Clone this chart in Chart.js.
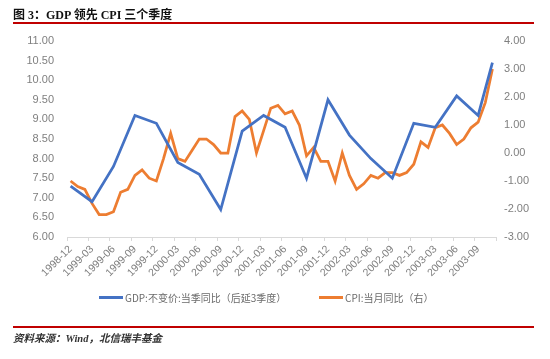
<!DOCTYPE html>
<html>
<head>
<meta charset="utf-8">
<script src="https://cdn.jsdelivr.net/npm/chart.js@4.4.1/dist/chart.umd.min.js"></script>
<style>
  html, body { margin: 0; padding: 0; background: #fff; }
  #wrap { position: relative; width: 550px; height: 359px; overflow: hidden; }
  #c { position: absolute; left: 0; top: 0; }
  .title { position: absolute; left: 13px; top: 5px; font: bold 12px "Liberation Serif", "Noto Sans CJK SC", serif; color: #111; white-space: nowrap; }
  .redline { position: absolute; left: 13px; width: 521px; height: 2px; background: #c00000; }
  .legend { position: absolute; top: 290px; font: 10px "Noto Sans CJK SC", sans-serif; color: #6b6b6b; white-space: nowrap; display: flex; align-items: center; }
  .legend .sw { display: inline-block; width: 24px; height: 3px; margin-right: 2px; }
  .source { position: absolute; left: 13px; top: 330px; font: italic bold 10.5px "Liberation Serif", "Noto Sans CJK SC", serif; color: #333; white-space: nowrap; }
</style>
</head>
<body>
<div id="wrap">
  <canvas id="c" width="550" height="359"></canvas>
  <div class="title">图 3：GDP 领先 CPI 三个季度</div>
  <div class="redline" style="top:22px"></div>
  <div class="legend" style="left:99px"><span class="sw" style="background:#4472C4"></span>GDP:不变价:当季同比（后延3季度）</div>
  <div class="legend" style="left:319px"><span class="sw" style="background:#ED7D31"></span>CPI:当月同比（右）</div>
  <div class="redline" style="top:326px"></div>
  <div class="source">资料来源：Wind，北信瑞丰基金</div>
</div>
<script>
// Monthly categories 1998-12 .. 2003-11
const startYear = 1998, startMonth = 12, monthCount = 60;
const months = [];
for (let i = 0; i < monthCount; i++) {
  const m = (startMonth - 1 + i) % 12 + 1;
  const y = startYear + Math.floor((startMonth - 1 + i) / 12);
  months.push(y + '-' + String(m).padStart(2, '0'));
}

// CPI month-on-year (right axis)
const cpiValues = [
  -1.0,
  -1.2, -1.3, -1.8, -2.2, -2.2, -2.1, -1.4, -1.3, -0.8, -0.6, -0.9, -1.0,
  -0.2, 0.7, -0.2, -0.3, 0.1, 0.5, 0.5, 0.3, 0.0, 0.0, 1.3, 1.5,
  1.2, 0.0, 0.8, 1.6, 1.7, 1.4, 1.5, 1.0, -0.1, 0.2, -0.3, -0.3,
  -1.0, 0.0, -0.8, -1.3, -1.1, -0.8, -0.9, -0.7, -0.7, -0.8, -0.7, -0.4,
  0.4, 0.2, 0.9, 1.0, 0.7, 0.3, 0.5, 0.9, 1.1, 1.8, 3.0
];

// GDP quarterly (shifted 3 quarters), left axis
const gdpDates = ['1998-12','1999-03','1999-06','1999-09','1999-12','2000-03','2000-06','2000-09',
  '2000-12','2001-03','2001-06','2001-09','2001-12','2002-03','2002-06','2002-09',
  '2002-12','2003-03','2003-06','2003-09','2003-11'];
const gdpValues = [7.3, 6.9, 7.8, 9.1, 8.9, 7.9, 7.6, 6.7,
  8.7, 9.1, 8.8, 7.5, 9.5, 8.6, 8.0, 7.5,
  8.9, 8.8, 9.6, 9.1, 10.45];

const gdpMonthly = months.map(m => {
  const k = gdpDates.indexOf(m);
  return k >= 0 ? gdpValues[k] : null;
});

const tickColor = '#7f7f7f';
const axisColor = '#d9d9d9';

new Chart(document.getElementById('c'), {
  type: 'line',
  data: {
    labels: months,
    datasets: [
      { label: 'GDP:不变价:当季同比（后延3季度）', data: gdpMonthly, yAxisID: 'y', borderColor: '#4472C4', backgroundColor: '#4472C4', borderWidth: 2.75, pointRadius: 0, spanGaps: true, tension: 0 },
      { label: 'CPI:当月同比（右）', data: cpiValues, yAxisID: 'y1', borderColor: '#ED7D31', backgroundColor: '#ED7D31', borderWidth: 2.75, pointRadius: 0, tension: 0 }
    ]
  },
  options: {
    responsive: false,
    animation: false,
    devicePixelRatio: 1,
    layout: { padding: { top: 41, left: 0, right: 0, bottom: 0 } },
    plugins: { legend: { display: false }, title: { display: false }, tooltip: { enabled: false } },
    scales: {
      x: {
        offset: true,
        grid: {
          offset: true, drawOnChartArea: false, drawTicks: true, tickLength: 4,
          color: ctx => (ctx.index === undefined || ctx.index % 3 === 0) ? axisColor : 'rgba(0,0,0,0)'
        },
        border: { display: true, color: axisColor },
        ticks: {
          autoSkip: false, maxRotation: 45, minRotation: 45, padding: 2,
          color: tickColor, font: { family: 'Liberation Sans', size: 10.5 },
          callback: (v, i) => (i % 3 === 0 ? months[i] : '')
        },
        afterFit: s => { s.height = 122; }
      },
      y: {
        position: 'left', min: 6, max: 11,
        grid: { display: false, drawTicks: false },
        border: { display: false },
        ticks: { stepSize: 0.5, padding: 13, color: tickColor, font: { family: 'Liberation Sans', size: 11 }, callback: v => Number(v).toFixed(2) },
        afterFit: s => { s.width = 67; }
      },
      y1: {
        position: 'right', min: -3, max: 4,
        grid: { display: false, drawTicks: false },
        border: { display: false },
        ticks: { stepSize: 1, padding: 8, color: tickColor, font: { family: 'Liberation Sans', size: 11 }, callback: v => Number(v).toFixed(2) },
        afterFit: s => { s.width = 54; }
      }
    }
  }
});
</script>
</body>
</html>
